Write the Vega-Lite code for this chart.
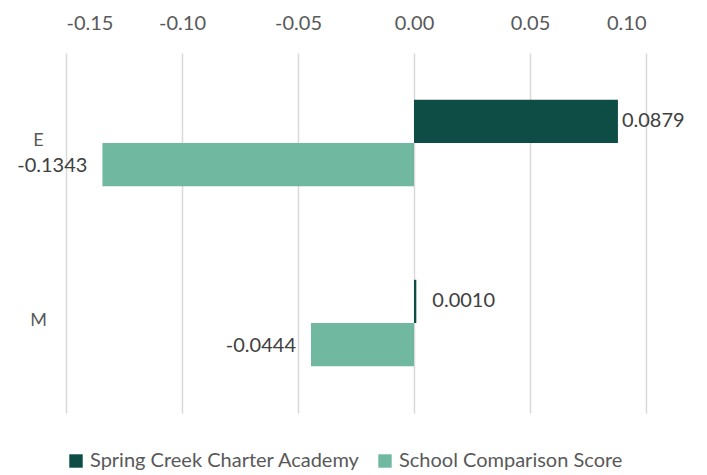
{
  "$schema": "https://vega.github.io/schema/vega-lite/v6.json",
  "width": 580,
  "height": 360,
  "autosize": {"type": "none"},
  "padding": {"left": 66, "top": 53, "right": 61, "bottom": 62},
  "background": "white",
  "config": {
    "view": {"stroke": null},
    "font": "Lato",
    "locale": {"number": {"decimal": ".", "thousands": ",", "grouping": [3], "currency": ["$", ""], "minus": "-"}},
    "axis": {"labelFont": "Lato", "labelColor": "#595959", "labelFontSize": 20},
    "legend": {"labelFont": "Lato", "labelColor": "#595959", "labelFontSize": 20}
  },
  "data": {
    "values": [
      {"subject": "E", "series": "Spring Creek Charter Academy", "value": 0.0879},
      {"subject": "E", "series": "School Comparison Score", "value": -0.1343},
      {"subject": "M", "series": "Spring Creek Charter Academy", "value": 0.0010},
      {"subject": "M", "series": "School Comparison Score", "value": -0.0444}
    ]
  },
  "encoding": {
    "y": {
      "field": "subject", "type": "nominal", "title": null,
      "scale": {"paddingInner": 0.52, "paddingOuter": 0.26},
      "axis": {"ticks": false, "domain": false, "labelAlign": "center", "labelPadding": 28, "grid": false, "labelFontSize": 18, "labelBaseline": "middle", "labelOffset": -2}
    },
    "yOffset": {
      "field": "series", "type": "nominal",
      "sort": ["Spring Creek Charter Academy", "School Comparison Score"],
      "scale": {"paddingInner": 0, "paddingOuter": 0}
    },
    "x": {
      "field": "value", "type": "quantitative", "title": null,
      "scale": {"domain": [-0.15, 0.10], "nice": false, "zero": false},
      "axis": {
        "orient": "top", "values": [-0.15, -0.10, -0.05, 0, 0.05, 0.10], "format": ".2f",
        "ticks": false, "domain": false, "grid": true, "gridColor": "#d9d9d9", "gridWidth": 1.5,
        "labelPadding": 20
      }
    }
  },
  "layer": [
    {
      "mark": {"type": "bar"},
      "encoding": {
        "color": {
          "field": "series", "type": "nominal",
          "sort": ["Spring Creek Charter Academy", "School Comparison Score"],
          "scale": {"domain": ["Spring Creek Charter Academy", "School Comparison Score"], "range": ["#0e4c46", "#70b8a0"]},
          "legend": {
            "title": null, "orient": "bottom", "direction": "horizontal", "offset": 38,
            "symbolType": "square", "symbolSize": 180, "symbolStrokeWidth": 0,
            "columnPadding": 14, "labelOffset": 4, "labelLimit": 0
          }
        }
      }
    },
    {
      "transform": [{"filter": "datum.value >= 0.05"}],
      "mark": {"type": "text", "align": "left", "dx": 4, "fontSize": 20, "color": "#404040"},
      "encoding": {"text": {"field": "value", "type": "quantitative", "format": ".4f"}}
    },
    {
      "transform": [{"filter": "datum.value >= 0 && datum.value < 0.05"}],
      "mark": {"type": "text", "align": "left", "dx": 16, "fontSize": 20, "color": "#404040"},
      "encoding": {"text": {"field": "value", "type": "quantitative", "format": ".4f"}}
    },
    {
      "transform": [{"filter": "datum.value < 0"}],
      "mark": {"type": "text", "align": "right", "dx": -15, "dy": 1, "fontSize": 20, "color": "#404040"},
      "encoding": {"text": {"field": "value", "type": "quantitative", "format": ".4f"}}
    }
  ]
}
